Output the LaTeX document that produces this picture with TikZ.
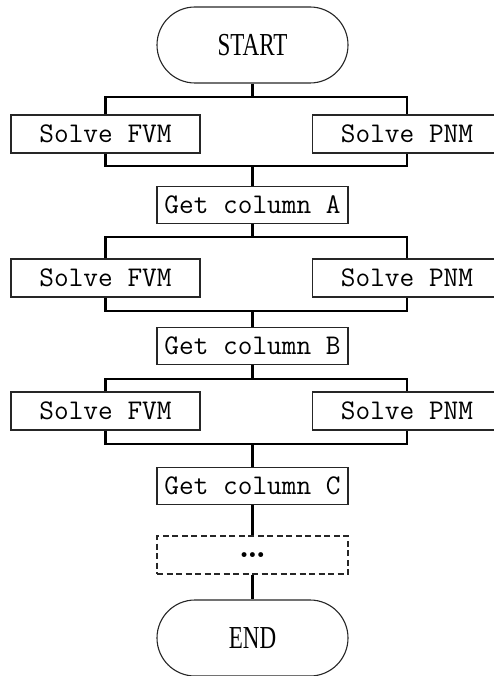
\documentclass[tikz,border=0pt]{standalone}
\usepackage{fontspec}
\newfontfamily\termfont{Liberation Serif}
\begin{document}
\begin{tikzpicture}[x=1pt,y=-1pt,
  box/.style={draw=black!85,line width=1.1pt,minimum width=189pt,minimum height=38pt,inner sep=0pt,
    font=\fontsize{28.5}{28.5}\selectfont\ttfamily},
  getbox/.style={box,minimum width=191pt,minimum height=37pt},
  dotbox/.style={draw=black!85,line width=1.6pt,dash pattern=on 6pt off 3.5pt,minimum width=191pt,minimum height=38pt,inner sep=0pt},
  term/.style={draw=black!85,line width=1.1pt,rounded corners=38pt,minimum width=191pt,minimum height=76pt,inner sep=0pt,
    font=\fontsize{32}{32}\selectfont\termfont},
  conn/.style={line width=2.6pt,black}]
\useasboundingbox (0,0) rectangle (493,676);
% start
\node[term] (start) at (252.5,45) {\scalebox{0.72}[1]{START}};
% row 1
\node[box] (f1) at (105.5,134) {Solve FVM};
\node[box] (p1) at (407,134) {Solve PNM};
\node[getbox] (ga) at (252.5,205) {Get column A};
% row 2
\node[box] (f2) at (105.5,278) {Solve FVM};
\node[box] (p2) at (407,278) {Solve PNM};
\node[getbox] (gb) at (252.5,346) {Get column B};
% row 3
\node[box] (f3) at (105.5,411) {Solve FVM};
\node[box] (p3) at (407,411) {Solve PNM};
\node[getbox] (gc) at (252.5,486) {Get column C};
\node[dotbox] (dots) at (252.5,555) {\fontsize{34}{34}\selectfont\bfseries\ldots};
\node[term] (end) at (252.5,638) {\scalebox{0.72}[1]{END}};
% split / merge points
\coordinate (s1) at (252.5,97);
\coordinate (m1) at (252.5,166);
\coordinate (s2) at (252.5,237);
\coordinate (m2) at (252.5,311);
\coordinate (s3) at (252.5,379);
\coordinate (m3) at (252.5,444);
% connectors
\draw[conn] (start.south) -- (s1);
\draw[conn] (f1.north) |- (s1) -| (p1.north);
\draw[conn] (f1.south) |- (m1) -| (p1.south);
\draw[conn] (m1) -- (ga.north);
\draw[conn] (ga.south) -- (s2);
\draw[conn] (f2.north) |- (s2) -| (p2.north);
\draw[conn] (f2.south) |- (m2) -| (p2.south);
\draw[conn] (m2) -- (gb.north);
\draw[conn] (gb.south) -- (s3);
\draw[conn] (f3.north) |- (s3) -| (p3.north);
\draw[conn] (f3.south) |- (m3) -| (p3.south);
\draw[conn] (m3) -- (gc.north);
\draw[conn] (gc.south) -- (dots.north);
\draw[conn] (dots.south) -- (end.north);
\end{tikzpicture}
\end{document}
